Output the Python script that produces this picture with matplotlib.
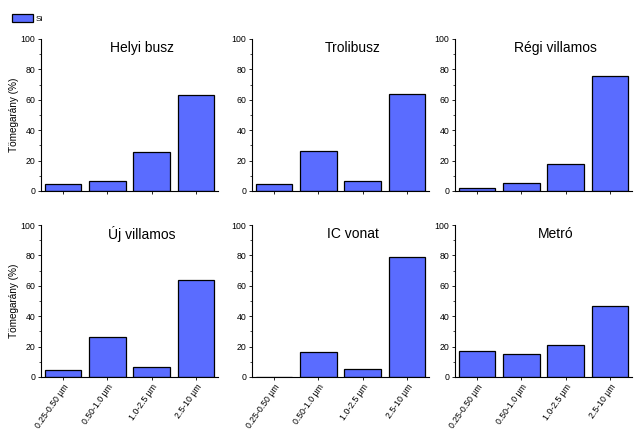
import matplotlib
matplotlib.use("Agg")
import matplotlib.pyplot as plt
from matplotlib.patches import Patch
from matplotlib.ticker import MultipleLocator

plt.rcParams['font.family'] = ['Liberation Sans', 'DejaVu Sans']

categories = ["0.25-0.50 µm", "0.50-1.0 µm", "1.0-2.5 µm", "2.5-10 µm"]
titles = ["Helyi busz", "Trolibusz", "Régi villamos", "Új villamos", "IC vonat", "Metró"]
helyi_busz = [4.7, 6.8, 25.8, 63.3]
trolibusz = [4.5, 26.1, 6.6, 63.5]
regi_villamos = [2.0, 5.4, 17.6, 75.8]
uj_villamos = [4.3, 26.0, 6.6, 63.6]
ic_vonat = [0.0, 16.3, 5.3, 79.0]
metro = [16.9, 15.3, 21.2, 46.8]
series = [helyi_busz, trolibusz, regi_villamos, uj_villamos, ic_vonat, metro]
ylabel = "Tömegarány (%)"
legend_label = "Si"
bar_color = "#5a6cff"

W, H = 634, 432
fig = plt.figure(figsize=(W / 100, H / 100), dpi=100)

lefts = [41, 252, 455]
tops = [39, 225]
aw, ah = 177, 152

x = list(range(len(categories)))
for i, (vals, title) in enumerate(zip(series, titles)):
    r, c = divmod(i, 3)
    ax = fig.add_axes([lefts[c] / W, 1 - (tops[r] + ah) / H, aw / W, ah / H])
    ax.bar(x, vals, width=0.82, color=bar_color, edgecolor="black", linewidth=0.9)
    ax.set_xlim(-0.5, 3.5)
    ax.set_ylim(0, 100)
    ax.yaxis.set_major_locator(MultipleLocator(20))
    ax.yaxis.set_minor_locator(MultipleLocator(10))
    ax.spines['top'].set_visible(False)
    ax.spines['right'].set_visible(False)
    ax.spines['left'].set_linewidth(0.8)
    ax.spines['bottom'].set_linewidth(0.8)
    ax.tick_params(axis='both', which='major', direction='out', length=2.5, width=0.6,
                   labelsize=6.3, pad=1.5)
    ax.tick_params(axis='y', which='minor', direction='out', length=1.5, width=0.5)
    ax.set_xticks(x)
    if r == 1:
        ax.set_xticklabels(categories, rotation=55, ha='right', rotation_mode='anchor',
                           fontsize=6.3)
    else:
        ax.set_xticklabels([])
    if c == 0:
        ax.set_ylabel(ylabel, fontsize=7.2, labelpad=1.5)
    ax.text(0.57, 0.94, title, transform=ax.transAxes, ha='center', va='center', fontsize=10)

fig.legend(handles=[Patch(facecolor=bar_color, edgecolor='black', linewidth=0.9,
                          label=legend_label)],
           loc='upper left', bbox_to_anchor=(4 / W, 1 - 6 / H), frameon=False,
           fontsize=6, handlelength=2.6, handleheight=1.2, handletextpad=0.3)

fig.savefig("out.png", dpi=100)
